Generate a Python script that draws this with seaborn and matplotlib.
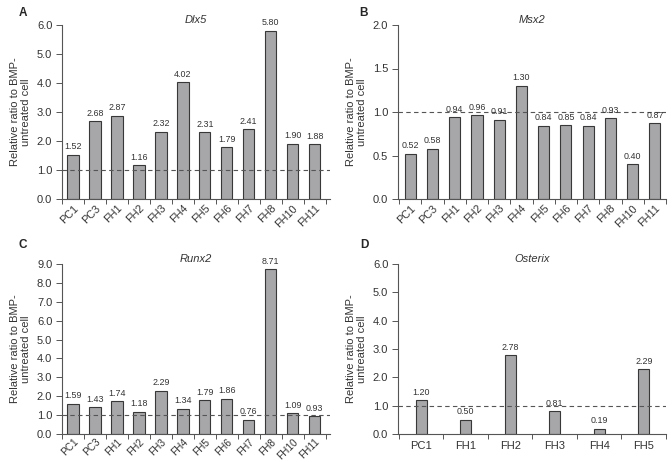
import numpy as np
import matplotlib
matplotlib.use("Agg")
import matplotlib.pyplot as plt
import seaborn as sns

# data
cells_12 = ["PC1", "PC3", "FH1", "FH2", "FH3", "FH4", "FH5", "FH6", "FH7", "FH8", "FH10", "FH11"]
cells_6 = ["PC1", "FH1", "FH2", "FH3", "FH4", "FH5"]
dlx5 = [1.52, 2.68, 2.87, 1.16, 2.32, 4.02, 2.31, 1.79, 2.41, 5.80, 1.90, 1.88]
msx2 = [0.52, 0.58, 0.94, 0.96, 0.91, 1.30, 0.84, 0.85, 0.84, 0.93, 0.40, 0.87]
runx2 = [1.59, 1.43, 1.74, 1.18, 2.29, 1.34, 1.79, 1.86, 0.76, 8.71, 1.09, 0.93]
osterix = [1.20, 0.50, 2.78, 0.81, 0.19, 2.29]

sns.set_style("ticks")
plt.rcParams['font.family'] = ['Liberation Sans', 'DejaVu Sans']

BAR = '#a7a7aa'
EDGE = '#383838'
AX = '#555555'
TXT = '#333333'

fig = plt.figure(figsize=(6.72, 4.62), dpi=100)

W, H = 672, 462


def px_axes(l, t, r, b):
    return fig.add_axes([l / W, 1 - b / H, (r - l) / W, (b - t) / H])


def panel(ax, cats, vals, gene, ymax, ystep, width, xlim, rotate, letter, lx, ly, xfs=7.8, xpad=3):
    sns.barplot(x=cats, y=vals, ax=ax, color=BAR, edgecolor=EDGE, linewidth=0.8,
                width=width, saturation=1)
    ax.axhline(1.0, color='#555555', lw=0.8, ls=(0, (4, 3)), zorder=3)
    ax.bar_label(ax.containers[0], labels=[f"{v:.2f}" for v in vals], padding=2.5,
                 fontsize=6.4, color=TXT)
    ticks = np.arange(0, ymax + 1e-9, ystep)
    ax.set_ylim(0, ymax)
    ax.set_yticks(ticks)
    ax.set_yticklabels([f"{t:.1f}" for t in ticks], fontsize=8, color=TXT)
    ax.set_xlim(*xlim)
    n = len(cats)
    ax.set_xticks(np.arange(n))
    if rotate:
        ax.set_xticklabels(cats, rotation=45, ha='right', rotation_mode='anchor', fontsize=xfs, color=TXT)
        ax.tick_params(axis='x', which='major', length=0, pad=xpad)
    else:
        ax.set_xticklabels(cats, fontsize=8, color=TXT)
        ax.tick_params(axis='x', which='major', length=0, pad=5)
    ax.set_xticks(np.arange(n + 1) - 0.5, minor=True)
    ax.tick_params(axis='x', which='minor', length=3.5, width=0.7, color=AX, direction='out')
    ax.tick_params(axis='y', length=4, width=0.7, color=AX, pad=3)
    ax.set_ylabel("Relative ratio to BMP-\nuntreated cell", fontsize=8, color=TXT, linespacing=1.15)
    ax.set_xlabel("")
    ax.set_title(gene, fontsize=8, style='italic', pad=-2, color=TXT)
    sns.despine(ax=ax)
    for s in ['left', 'bottom']:
        ax.spines[s].set_color(AX)
        ax.spines[s].set_linewidth(0.8)
    fig.text(lx / W, 1 - ly / H, letter, fontsize=8.5, fontweight='bold', ha='center', va='center')


ax_a = px_axes(62, 25, 330, 199)
panel(ax_a, cells_12, dlx5, "Dlx5", 6.0, 1.0, 0.52, (-0.3, 11.7), True, "A", 23, 13)

ax_b = px_axes(398, 25, 666, 199)
panel(ax_b, cells_12, msx2, "Msx2", 2.0, 0.5, 0.5, (-0.55, 11.45), True, "B", 364, 13)

ax_c = px_axes(62, 264, 330, 434)
panel(ax_c, cells_12, runx2, "Runx2", 9.0, 1.0, 0.52, (-0.3, 11.7), True, "C", 23, 245, xfs=7.2, xpad=2)

ax_d = px_axes(398, 264, 666, 434)
panel(ax_d, cells_6, osterix, "Osterix", 6.0, 1.0, 0.25, (-0.52, 5.5), False, "D", 364, 245)

fig.savefig("out.png", dpi=100)
